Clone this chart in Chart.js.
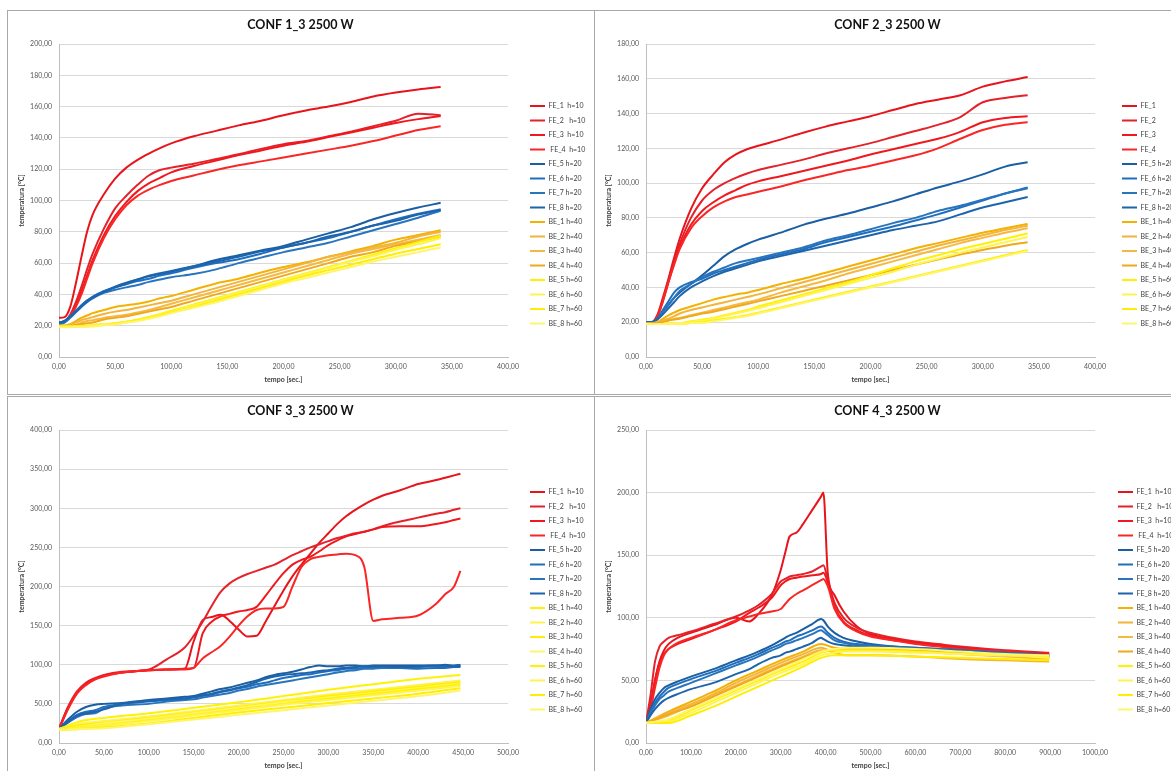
<!DOCTYPE html>
<html>
<head>
<meta charset="utf-8">
<script src="https://cdn.jsdelivr.net/npm/chart.js@4/dist/chart.umd.min.js"></script>
<style>
  html, body { margin: 0; padding: 0; background: #fff; }
  body { width: 1171px; height: 771px; overflow: hidden; position: relative; }
  canvas { position: absolute; }
  .frame { position: absolute; box-sizing: border-box; border: 1px solid #a8a8a8; pointer-events: none; }
</style>
</head>
<body>
<canvas id="conf1" width="587" height="384" style="left:7px;top:10px"></canvas>
<canvas id="conf2" width="587" height="384" style="left:594px;top:10px"></canvas>
<canvas id="conf3" width="587" height="384" style="left:7px;top:396px"></canvas>
<canvas id="conf4" width="587" height="384" style="left:594px;top:396px"></canvas>
<div class="frame" style="left:7px;top:10px;width:588px;height:385px"></div>
<div class="frame" style="left:594px;top:10px;width:600px;height:385px"></div>
<div class="frame" style="left:7px;top:396px;width:588px;height:400px"></div>
<div class="frame" style="left:594px;top:396px;width:600px;height:400px"></div>
<script>
// ---- series names ----
const labelsH = ['FE_1  h=10', 'FE_2   h=10', 'FE_3  h=10', ' FE_4  h=10',
  'FE_5 h=20', 'FE_6 h=20', 'FE_7 h=20', 'FE_8 h=20',
  'BE_1 h=40', 'BE_2 h=40', 'BE_3 h=40', 'BE_4 h=40',
  'BE_5 h=60', 'BE_6 h=60', 'BE_7 h=60', 'BE_8 h=60'];
const labelsConf2 = ['FE_1', 'FE_2', 'FE_3', 'FE_4',
  'FE_5 h=20', 'FE_6 h=20', 'FE_7 h=20', 'FE_8 h=20',
  'BE_1 h=40', 'BE_2 h=40', 'BE_3 h=40', 'BE_4 h=40',
  'BE_5 h=60', 'BE_6 h=60', 'BE_7 h=60', 'BE_8 h=60'];

// ---- CONF 1_3 : time [s] and temperatures [°C] ----
const c1Time = [0,5,10,15,20,25,30,40,50,60,70,80,90,100,120,140,160,180,200,220,240,260,280,300,320,340];
const c1Red = [
  [25,25.5,32,47,64,80,91,104,114,121,126,130,133.5,136.5,141,144.5,148,151,154.5,157.5,160,163,166.5,169,171,172.5],
  [22,23,27,35,45,56,66,82,95,103,110,116,119.5,121,123.5,126.5,129.5,133,136,138,141,144,147.5,151,155.5,154.5],
  [22,22.5,26,33,42,52,62,78,90,99,106,111,114.5,118,122,125.5,129,132,135,137.5,140.5,143.5,146.5,149.5,152,154],
  [22,22.5,26,32,40,50,60,76,88,97,103,107,110,112.5,116,119.5,122.5,125,127.5,130,132.5,135,138,141.5,145,147.5]
];
const c1Blue = [
  [22,23,25.5,29,33,36,38.5,42,45,47.5,49.5,51.5,53,54.5,58,62,65,68,71,75,79,83,88,92,95.5,98.5],
  [22,23,26,29.5,33,36,38.5,42,44.5,46.5,48.5,50,52,53.5,57,60,62.5,66,70,73,76,80,84,88,91.5,94.5],
  [21,22,25,28.5,32,35,37.5,41,43,44.5,46,48,49.5,51,53,56,60,63.5,67,70,73,77,81,85,89,93.5],
  [22,23,26,29,32.5,35.5,38,41.5,44.5,47,49.5,52,53.5,55,58,61,64,67.5,70,73,77,80,84,87,91,94]
];
const c1Orange = [
  [20,20,21,23,25,26.5,28,30,32,33,34,35.5,37.5,39,43,47,50,54,57.5,60.5,64,67.5,71,75,78,81],
  [20,20,21,22,23.5,24.5,25.5,27.5,29,30,31.5,33,34.5,36,40,44,48,52,56,60,64,67,70,73,77,80],
  [19.5,19.5,20,20.5,22,23,23.5,25,26,27,28.5,30,32,34,38,42,46,50,54,58,62,66,69,72,75,78],
  [20,20,20,20.5,21,21.5,22,24,25,26,27.5,29,30.5,32,36,40,44,48,52,56,60,64,67,71,74,77]
];
const c1Yellow = [
  [19.5,19.5,19.5,19.5,19.5,19.5,20,20.5,21.5,22.5,24,25.5,27.5,29.5,33.5,37.5,41.5,45.5,49.5,53.5,57.5,61.5,65.5,69.5,73.5,77.5],
  [19.5,19.5,19.5,19.5,19.5,19.5,19.5,20.5,21,22,23.5,25,27,29,33,37,41,45,49,53,57,61,64.5,68.5,72,76],
  [19.5,19.5,19.5,19.5,20,20,20.5,21,21.5,22.5,23.5,25,26.5,28.5,32,36,40,44,48,52,55.5,59,62.5,66,69,72],
  [19,19,19,19.5,19.5,19.5,20,20.5,21,22,23,24.5,26,28,31.5,35,39,43,47,50.5,54,57.5,61,64,67,70]
];

// ---- CONF 2_3 ----
const c2Time = [0,5,10,15,20,25,30,40,50,60,70,80,90,100,120,140,160,180,200,220,240,260,280,300,320,340];
const c2Red = [
  [20,20,24,34,45,57,68,85,97,105,112,116.5,119.5,121.5,125,129,132.5,135.5,138.5,142,145.5,148,150.5,155.5,158.5,161],
  [20,20,23.5,33,44,55,65,80,90,96,100,103,105.5,107.5,110.5,113.5,117,120,123,126.5,130,133.5,138,146.5,149,150.5],
  [20,20,23,32,43,54,63,76,84,89,93,96,99,101,104,107,110,113,116.5,119.5,122.5,125.5,129.5,135,137.5,138.5],
  [20,20,23,32,43,53,62,74,81,86,89.5,92,93.5,95,98,101.5,104.5,107.5,110,113,116,120,125.5,130.5,133.5,135]
];
const c2Blue = [
  [20,20,22,26,30,34,37,42,47,52.5,58,62,65,67.5,71.5,76,79.5,82.5,86,89.5,93.5,97.5,101,105,109.5,112],
  [20,20,22,27,32,37,40,43,45,48,50,52,54,56,59,62,66,69,72,75,78.5,82,86,90,94,97.5],
  [20,20,22,26,30,34,38,42,46,49,51.5,54,55.5,57,60,63,67,70,73.5,77,80,84,87,90.5,94,97],
  [20,20,21.5,24.5,28,31.5,35,40,43.5,46.5,49,51,53,55,58,61,64,67,70,73,75.5,78,82,86,89,92]
];
const c2Orange = [
  [19.5,19.5,20,22,24,25.5,27,29,31,33,34.5,36,37,38.5,42,45,48.5,52,55.5,59,62.5,65.5,68.5,71.5,74,76.5],
  [19.5,19.5,20,21,22,23.5,25,27,28.5,30,31.5,33,34.5,36,39.5,43,46.5,50,53.5,57,60.5,64,67,70,73,75.5],
  [19.5,19.5,19.5,20,21,22,22.5,24,25.5,27,28.5,30,31.5,33,37,40.5,44,48,51.5,55,58.5,62,65.5,68.5,71.5,74],
  [19.5,19.5,19.5,20,21,21.5,22,23.5,25,26,27.5,29,30.5,32,35,38,41,44,47,50,53,56,59,61.5,64,66]
];
const c2Yellow = [
  [19,19,19,19,19.5,19.5,19.5,20.5,21.5,22.5,24,25.5,27,29,32.5,36,39.5,43,47,51,55,58.5,62,65,68,71],
  [19,19,19,19,19.5,19.5,19.5,20,21,22,23.5,25,26.5,28,31.5,35,38.5,42,45.5,49,53,56.5,60,63,66,69],
  [19,19,19,19,19,19,19,19.5,20,21,22,23,24,25.5,28.5,31.5,34.5,37.5,40.5,43.5,46.5,49.5,52.5,55.5,58.5,61.5],
  [19,19,19,19,19,19,19,19.5,19.5,20.5,21.5,22.5,23.5,25,28,31,34,37,40,43,46,49,52,55,58,61]
];

// ---- CONF 3_3 ----
const c3Time = [0,10,20,30,40,50,70,100,120,140,150,160,170,180,190,200,210,220,230,240,250,260,270,280,290,300,310,320,330,340,350,360,380,400,420,430,440,447];
const c3Red = [
  [18,45,64,75,82,86,90,93,94,95,130,157,161,164,156,145,136,137,155,175,195,213,228,242,256,268,280,290,298,305,311,316,323,331,336,339,342,344],
  [18,46,66,77,83,87,91,94,107,122,137,155,175,193,204,211,216,220,224,228,234,240,245,250,254,258,262,265,268,270,273,277,283,288,293,295,298,300],
  [18,44,64,75,82,86,90,93,94,95,96,140,155,162,165,168,170,174,188,203,217,228,234,238,245,253,259,264,267,270,273,276,277,277,280,282,285,287],
  [18,43,63,74,81,85,90,93,94,94,96,108,116,124,136,150,162,170,172,172,174,200,225,235,238,240,241,242,240,225,156,158,160,163,178,190,200,220]
];
const c3Blue = [
  [18,30,40,46,49,50,51,55,57,59,60,63,66,69,71,74,77,80,84,87,89,91,94,97,99,98,98,99,99,98,99,99,99,99,99,100,99,100],
  [18,28,36,40,42,46,50,53,55,57,58,60,62,65,67,70,72,75,77,80,83,85,87,88,90,92,93,95,95,96,96,97,96,95,96,96,97,97],
  [18,26,33,37,38,44,48,50,53,55,56,58,60,62,64,67,69,72,74,76,78,80,82,84,86,88,90,92,93,95,95,96,96,97,98,98,98,99],
  [18,27,35,38,40,43,50,54,56,57,59,61,63,66,68,71,74,78,82,85,87,88,89,90,92,93,95,96,97,98,98,98,97,98,99,99,98,98]
];
const c3TimeBE = [0,25,50,100,150,200,250,300,350,400,447];
const c3Yellow = [
  [18,28,32,38,45,52,60,68,75,82,87],
  [18,25,28,34,41,48,55,62,68,74,80],
  [18,23,26,32,39,46,53,60,66,72,78],
  [17,21,25,31,38,45,52,58,64,70,76],
  [17,20,23,29,36,43,50,57,63,69,75],
  [17,19,22,28,35,42,49,55,61,67,73],
  [17,18,20,25,32,39,45,51,57,63,70],
  [17,18,19,24,30,36,42,48,54,60,67]
];

// ---- CONF 4_3 ----
const c4Time = [0,10,20,30,40,50,70,100,150,200,230,250,280,300,310,320,335,350,370,390,395,405,420,440,470,500,550,600,650,700,800,898];
const c4Red = [
  [16,30,50,65,74,79,84,88,94,100,97,103,118,138,152,165,168,175,186,197,200,135,118,105,93,87,83,80,78,76,73,71],
  [16,38,65,77,81,84,86,89,95,101,106,110,119,129,131,133,134,135,137,141,142,130,112,100,92,88,84,81,79,77,74,72],
  [16,30,50,64,71,75,79,83,90,97,104,108,116,126,129,131,132,133,134,135,136,128,109,97,90,86,82,80,78,76,73,71],
  [16,27,44,60,70,75,80,84,90,98,101,103,105,107,111,115,119,122,126,130,131,125,107,96,89,85,82,79,77,75,73,70]
];
const c4Blue = [
  [16,27,35,40,44,46,49,53,59,66,70,73,78,82,84,86,88,91,95,99,98,93,88,84,81,79,77,76,75,74,72,70],
  [16,25,32,37,41,44,47,51,57,64,68,71,76,79,81,82,85,87,90,93,92,88,84,81,79,78,77,76,75,74,72,70],
  [16,24,30,35,38,41,44,48,55,62,66,69,74,77,79,80,82,84,87,90,89,86,82,80,78,77,76,75,74,73,71,69],
  [16,22,27,31,34,36,39,43,48,55,59,63,68,70,72,73,75,77,80,84,83,81,79,78,77,76,76,75,74,73,71,69]
];
const c4TimeBE = [0,50,100,150,200,250,300,350,390,420,450,500,600,700,800,898];
const c4Orange = [
  [16,25,33,41,50,58,66,73,79,76,75,76,74,72,70,68],
  [16,24,31,39,48,56,64,71,76,72,70,70,69,67,66,65],
  [16,22,30,38,46,54,62,69,74,74,74,74,73,71,69,67],
  [16,23,29,37,45,53,61,68,73,74,75,75,74,72,70,68]
];
const c4Yellow = [
  [16,18,26,34,42,50,58,65,72,74,74,74,73,71,70,69],
  [16,17,24,32,40,48,56,63,70,72,73,73,72,71,70,68],
  [16,16,22,29,37,45,53,61,68,70,70,70,69,68,67,66],
  [16,19,27,35,43,51,59,67,73,75,76,76,75,73,71,70]
];

// ---- palette ----
const REDS = ['#e8141b', '#e4222a', '#f0181e', '#fa2626'];
const BLUES = ['#1a5fa3', '#1f6fbf', '#2874bd', '#1d64ad'];
const ORANGES = ['#f4b100', '#f2b43a', '#f5b940', '#f0a91e'];
const YELLOWS = ['#fff200', '#fff34f', '#ffee00', '#fff56a'];

Chart.defaults.font.family = 'Lato, "Open Sans", sans-serif';
Chart.defaults.color = '#595959';
Chart.defaults.animation = false;

const fmt = v => v.toFixed(2).replace('.', ',');

// legend placed at a fixed spot to the right of the plot
function legendSpot(x, y, width) {
  const pad = 7.5, fs = 7;
  return {
    id: 'legendSpot',
    beforeInit(chart) {
      const lg = chart.legend;
      const fit = lg.fit;
      lg.fit = function () { fit.call(this); this.width = width; };
    },
    afterLayout(chart) {
      const lg = chart.legend;
      lg.left = x - pad;
      lg.right = lg.left + width;
      lg.top = y - fs / 2 - pad;
      lg.bottom = chart.height;
    }
  };
}

function group(time, rows, colors) {
  return rows.map((vals, i) => ({ time, vals, color: colors[i % colors.length] }));
}

function drawPanel(id, title, labels, series, xMax, xStep, yMax, yStep, legendX) {
  const n = series.length;
  const datasets = series.map((s, i) => ({
    label: labels[i],
    data: s.time.map((t, k) => ({ x: t, y: s.vals[k] })),
    borderColor: s.color,
    backgroundColor: s.color,
    borderWidth: 2,
    pointRadius: 0,
    pointHoverRadius: 0,
    fill: false,
    cubicInterpolationMode: 'monotone',
    order: n - i
  }));
  new Chart(document.getElementById(id), {
    type: 'line',
    data: { datasets },
    plugins: [legendSpot(legendX, 96, 86)],
    options: {
      responsive: false,
      animation: false,
      layout: { padding: 0 },
      plugins: {
        title: {
          display: true, text: title, color: '#111',
          font: { size: 12.5, weight: 'bold' },
          padding: { top: 7.5, bottom: 11.5 }
        },
        legend: {
          position: 'right', align: 'start',
          labels: {
            usePointStyle: true, pointStyle: 'line', pointStyleWidth: 15,
            font: { size: 7 }, padding: 7.5, color: '#404040',
            sort: (a, b) => a.datasetIndex - b.datasetIndex
          }
        },
        tooltip: { enabled: false }
      },
      scales: {
        x: {
          type: 'linear', min: 0, max: xMax,
          grid: { display: false, drawTicks: false },
          border: { color: '#bfbfbf', width: 1 },
          ticks: { stepSize: xStep, callback: fmt, autoSkip: false, maxRotation: 0, padding: 6, font: { size: 7 } },
          title: { display: true, text: 'tempo [sec.]', color: '#404040', font: { size: 7, weight: 'bold' }, padding: { top: 0, bottom: 10.5 } },
          afterFit: s => { s.height = 37; }
        },
        y: {
          min: 0, max: yMax,
          grid: { color: '#d9d9d9', drawTicks: false },
          border: { color: '#bfbfbf', width: 1 },
          ticks: { stepSize: yStep, callback: fmt, padding: 7, font: { size: 7 } },
          title: { display: true, text: 'temperatura [°C]', color: '#404040', font: { size: 7, weight: 'bold' }, padding: { top: 11, bottom: 0 } },
          afterFit: s => { s.width = 52; }
        }
      }
    }
  });
}

drawPanel('conf1', 'CONF 1_3 2500 W', labelsH, [
  ...group(c1Time, c1Red, REDS), ...group(c1Time, c1Blue, BLUES),
  ...group(c1Time, c1Orange, ORANGES), ...group(c1Time, c1Yellow, YELLOWS)
], 400, 50, 200, 20, 523);

drawPanel('conf2', 'CONF 2_3 2500 W', labelsConf2, [
  ...group(c2Time, c2Red, REDS), ...group(c2Time, c2Blue, BLUES),
  ...group(c2Time, c2Orange, ORANGES), ...group(c2Time, c2Yellow, YELLOWS)
], 400, 50, 180, 20, 528);

drawPanel('conf3', 'CONF 3_3 2500 W', labelsH, [
  ...group(c3Time, c3Red, REDS), ...group(c3Time, c3Blue, BLUES),
  ...group(c3TimeBE, c3Yellow, YELLOWS)
], 500, 50, 400, 50, 523);

drawPanel('conf4', 'CONF 4_3 2500 W', labelsH, [
  ...group(c4Time, c4Red, REDS), ...group(c4Time, c4Blue, BLUES),
  ...group(c4TimeBE, c4Orange, ORANGES), ...group(c4TimeBE, c4Yellow, YELLOWS)
], 1000, 100, 250, 50, 524);
</script>
</body>
</html>
